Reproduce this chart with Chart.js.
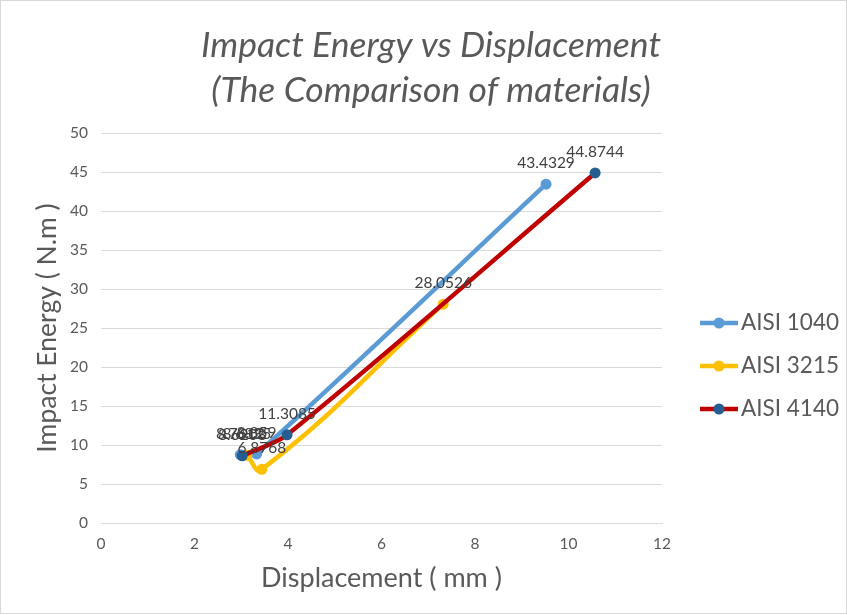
<!DOCTYPE html>
<html>
<head>
<meta charset="utf-8">
<script src="https://cdn.jsdelivr.net/npm/chart.js@4.4.1/dist/chart.umd.min.js"></script>
<style>
  body { margin: 0; background: #ffffff; }
</style>
</head>
<body>
<canvas id="impactChart" width="847" height="615"></canvas>
<script>
// --- Data ---
const seriesNames = ['AISI 1040', 'AISI 3215', 'AISI 4140'];
const disp1040 = [2.98, 3.33, 9.52];
const energy1040 = [8.7612, 8.8590, 43.4329];
const disp3215 = [3.12, 3.44, 7.32];
const energy3215 = [8.6835, 6.8768, 28.0526];
const disp4140 = [3.02, 3.98, 10.57];
const energy4140 = [8.6208, 11.3085, 44.8744];
const xTicks = [0, 2, 4, 6, 8, 10, 12];
const yTicks = [0, 5, 10, 15, 20, 25, 30, 35, 40, 45, 50];
const titleLines = ['Impact Energy vs Displacement', '(The Comparison of materials)'];

function toPoints(xs, ys) {
    return xs.map(function(x, i) { return { x: x, y: ys[i] }; });
}

const textGrey = '#595959';
const fontFamily = 'Lato, "Open Sans", sans-serif';

// Background, frame and the two-line italic title
const framePlugin = {
    id: 'frame',
    beforeDraw: function(chart) {
        const ctx = chart.ctx;
        ctx.save();
        ctx.fillStyle = '#ffffff';
        ctx.fillRect(0, 0, chart.width, chart.height);
        ctx.strokeStyle = '#d9d9d9';
        ctx.lineWidth = 1;
        ctx.strokeRect(0.5, 0.5, chart.width - 1, chart.height - 2);
        ctx.restore();
    },
    afterDraw: function(chart) {
        const ctx = chart.ctx;
        ctx.save();
        ctx.fillStyle = textGrey;
        ctx.font = 'italic 35.5px ' + fontFamily;
        ctx.textAlign = 'center';
        ctx.textBaseline = 'middle';
        ctx.fillText(titleLines[0], 431, 46);
        ctx.fillText(titleLines[1], 431, 91);
        ctx.restore();
    }
};

// Value labels above every point (Excel style)
const valueLabelPlugin = {
    id: 'valueLabels',
    afterDatasetsDraw: function(chart) {
        const ctx = chart.ctx;
        ctx.save();
        ctx.fillStyle = '#404040';
        ctx.font = '15.5px ' + fontFamily;
        ctx.textAlign = 'center';
        ctx.textBaseline = 'middle';
        chart.data.datasets.forEach(function(ds, i) {
            const meta = chart.getDatasetMeta(i);
            meta.data.forEach(function(pt, j) {
                ctx.fillText(String(ds.data[j].y), pt.x, pt.y - 21);
            });
        });
        ctx.restore();
    }
};

// Legend on the right: line with a marker in the middle
const sideLegendPlugin = {
    id: 'sideLegend',
    afterDraw: function(chart) {
        const ctx = chart.ctx;
        const rows = [323, 366, 409];
        ctx.save();
        chart.data.datasets.forEach(function(ds, i) {
            const y = rows[i];
            ctx.strokeStyle = ds.borderColor;
            ctx.lineWidth = ds.borderWidth;
            ctx.beginPath();
            ctx.moveTo(700, y);
            ctx.lineTo(738, y);
            ctx.stroke();
            ctx.fillStyle = ds.pointBackgroundColor;
            ctx.beginPath();
            ctx.arc(719, y, 5.5, 0, Math.PI * 2);
            ctx.fill();
            ctx.fillStyle = textGrey;
            ctx.font = '22.5px ' + fontFamily;
            ctx.textAlign = 'left';
            ctx.textBaseline = 'middle';
            ctx.fillText(ds.label, 741, y);
        });
        ctx.restore();
    }
};

const ctx = document.getElementById('impactChart').getContext('2d');
new Chart(ctx, {
    type: 'scatter',
    data: {
        datasets: [
            {
                label: seriesNames[0],
                data: toPoints(disp1040, energy1040),
                showLine: true,
                borderColor: '#5b9bd5',
                backgroundColor: '#5b9bd5',
                pointBackgroundColor: '#5b9bd5',
                pointBorderWidth: 0,
                borderWidth: 4.5,
                pointRadius: 5.5,
                tension: 0.3,
                order: 3
            },
            {
                label: seriesNames[1],
                data: toPoints(disp3215, energy3215),
                showLine: true,
                borderColor: '#ffc000',
                backgroundColor: '#ffc000',
                pointBackgroundColor: '#ffc000',
                pointBorderWidth: 0,
                borderWidth: 4.5,
                pointRadius: 5.5,
                tension: 0.45,
                order: 2
            },
            {
                label: seriesNames[2],
                data: toPoints(disp4140, energy4140),
                showLine: true,
                borderColor: '#c00000',
                backgroundColor: '#c00000',
                pointBackgroundColor: '#255e91',
                pointBorderWidth: 0,
                borderWidth: 4.5,
                pointRadius: 5.5,
                tension: 0.3,
                order: 1
            }
        ]
    },
    options: {
        responsive: false,
        animation: false,
        layout: {
            padding: { top: 133, right: 185, left: 0, bottom: 0 }
        },
        plugins: {
            legend: { display: false },
            title: { display: false },
            tooltip: { enabled: false }
        },
        scales: {
            x: {
                type: 'linear',
                min: 0,
                max: 12,
                afterBuildTicks: function(scale) {
                    scale.ticks = xTicks.map(function(v) { return { value: v }; });
                },
                afterFit: function(scale) { scale.height = 92; },
                grid: { display: false, drawTicks: false },
                border: { display: true, color: '#d9d9d9', width: 1 },
                ticks: {
                    color: textGrey,
                    padding: 12,
                    font: { family: fontFamily, size: 15.5 }
                },
                title: {
                    display: true,
                    text: 'Displacement ( mm )',
                    color: textGrey,
                    font: { family: fontFamily, size: 27 },
                    padding: { top: 0, bottom: 21 }
                }
            },
            y: {
                type: 'linear',
                min: 0,
                max: 50,
                afterBuildTicks: function(scale) {
                    scale.ticks = yTicks.map(function(v) { return { value: v }; });
                },
                afterFit: function(scale) { scale.width = 101; },
                grid: { color: '#d9d9d9', lineWidth: 1, drawTicks: false },
                border: { display: false },
                ticks: {
                    color: textGrey,
                    padding: 13,
                    font: { family: fontFamily, size: 15.5 }
                },
                title: {
                    display: true,
                    text: 'Impact Energy ( N.m )',
                    color: textGrey,
                    font: { family: fontFamily, size: 26.5 },
                    padding: { top: 32, bottom: 0 }
                }
            }
        }
    },
    plugins: [framePlugin, valueLabelPlugin, sideLegendPlugin]
});
</script>
</body>
</html>
